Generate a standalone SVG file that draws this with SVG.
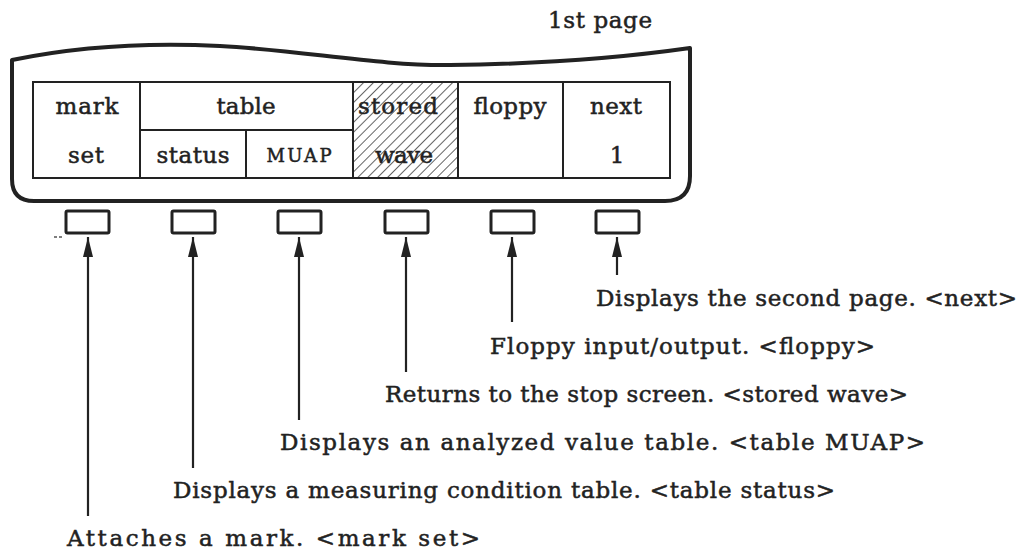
<svg xmlns="http://www.w3.org/2000/svg" width="1023" height="551" viewBox="0 0 1023 551">
  <style>
    text { font-family: "DejaVu Serif", "Liberation Serif", serif; fill: #222; stroke: #222; stroke-width: 0.5; }
    .cell { font-size: 23px; text-anchor: middle; }
    .caps { font-size: 18px; text-anchor: middle; }
    .note { font-size: 23px; }
    .frame { fill: none; stroke: #222; stroke-width: 4; stroke-linejoin: round; }
    .grid { fill: none; stroke: #222; stroke-width: 2; }
    .key { fill: #fff; stroke: #222; stroke-width: 3; }
    .lead { stroke: #222; stroke-width: 2.2; fill: none; }
  </style>
  <defs>
    <pattern id="hatch" patternUnits="userSpaceOnUse" width="7" height="7" patternTransform="rotate(45)">
      <line x1="0" y1="0" x2="0" y2="7" stroke="#222" stroke-width="1.4"/>
    </pattern>
    <marker id="head" viewBox="0 0 20 10" refX="20" refY="5" markerWidth="20" markerHeight="10" markerUnits="userSpaceOnUse" orient="auto">
      <path d="M20,5 L0,0 L0,10 Z" fill="#222"/>
    </marker>
  </defs>

  <rect width="1023" height="551" fill="#fff"/>

  <text id="title" class="note" x="548" y="28" textLength="104">1st page</text>

  <!-- screen outline with the wavy top edge -->
  <path class="frame" d="M12,60 C70,48 140,42 220,46 C300,50 380,66 450,65 C540,64 620,58 690,48 L690,176 Q690,201 665,201 L34,201 Q12,201 12,179 Z"/>

  <!-- soft-key labels on screen -->
  <g id="menu">
    <rect x="353" y="82" width="105" height="96" fill="#fff"/>
    <text class="cell" x="398" y="114" textLength="80">stored</text>
    <text class="cell" x="404" y="163" textLength="58">wave</text>
    <rect x="353" y="82" width="105" height="96" fill="url(#hatch)"/>
    <rect class="grid" x="33" y="82" width="637" height="96"/>
    <line class="grid" x1="140" y1="82" x2="140" y2="178"/>
    <line class="grid" x1="140" y1="130" x2="353" y2="130"/>
    <line class="grid" x1="246" y1="130" x2="246" y2="178"/>
    <line class="grid" x1="353" y1="82" x2="353" y2="178"/>
    <line class="grid" x1="458" y1="82" x2="458" y2="178"/>
    <line class="grid" x1="563" y1="82" x2="563" y2="178"/>
    <text class="cell" x="87" y="114" textLength="63">mark</text>
    <text class="cell" x="86" y="163" textLength="36">set</text>
    <text class="cell" x="246" y="114" textLength="59">table</text>
    <text class="cell" x="193" y="163" textLength="73">status</text>
    <text class="caps" x="299" y="162" textLength="65">MUAP</text>
    <text class="cell" x="510" y="114" textLength="73">floppy</text>
    <text class="cell" x="616" y="114" textLength="52">next</text>
    <text class="cell" x="617" y="163">1</text>
  </g>

  <!-- hardware keys under the screen -->
  <g id="key-mark"><rect class="key" x="66" y="211" width="43" height="22" rx="1.5"/></g>
  <g id="key-status"><rect class="key" x="172" y="211" width="43" height="22" rx="1.5"/></g>
  <g id="key-muap"><rect class="key" x="278" y="211" width="43" height="22" rx="1.5"/></g>
  <g id="key-stored"><rect class="key" x="385" y="211" width="43" height="22" rx="1.5"/></g>
  <g id="key-floppy"><rect class="key" x="491" y="211" width="43" height="22" rx="1.5"/></g>
  <g id="key-next"><rect class="key" x="596" y="211" width="43" height="22" rx="1.5"/></g>

  <path d="M54,237 l3,0 M59,237 l3,0" stroke="#555" stroke-width="1.5"/>

  <g id="connectors">
    <line class="lead" x1="88" y1="516" x2="88" y2="237" marker-end="url(#head)"/>
    <line class="lead" x1="193" y1="468" x2="193" y2="237" marker-end="url(#head)"/>
    <line class="lead" x1="299" y1="420" x2="299" y2="237" marker-end="url(#head)"/>
    <line class="lead" x1="406" y1="372" x2="406" y2="237" marker-end="url(#head)"/>
    <line class="lead" x1="512" y1="322" x2="512" y2="237" marker-end="url(#head)"/>
    <line class="lead" x1="617" y1="275" x2="617" y2="237" marker-end="url(#head)"/>
  </g>

  <g id="notes" xml:space="preserve">
    <text class="note" x="596" y="306" textLength="421">Displays the second page.  &lt;next&gt;</text>
    <text class="note" x="490" y="354" textLength="385">Floppy input/output.  &lt;floppy&gt;</text>
    <text class="note" x="385" y="402" textLength="523">Returns to the stop screen.  &lt;stored wave&gt;</text>
    <text class="note" x="280" y="450" textLength="645">Displays an analyzed value table.  &lt;table MUAP&gt;</text>
    <text class="note" x="173" y="498" textLength="662">Displays a measuring condition table.  &lt;table status&gt;</text>
    <text class="note" x="67" y="546" textLength="413">Attaches a mark.  &lt;mark set&gt;</text>
  </g>
</svg>
